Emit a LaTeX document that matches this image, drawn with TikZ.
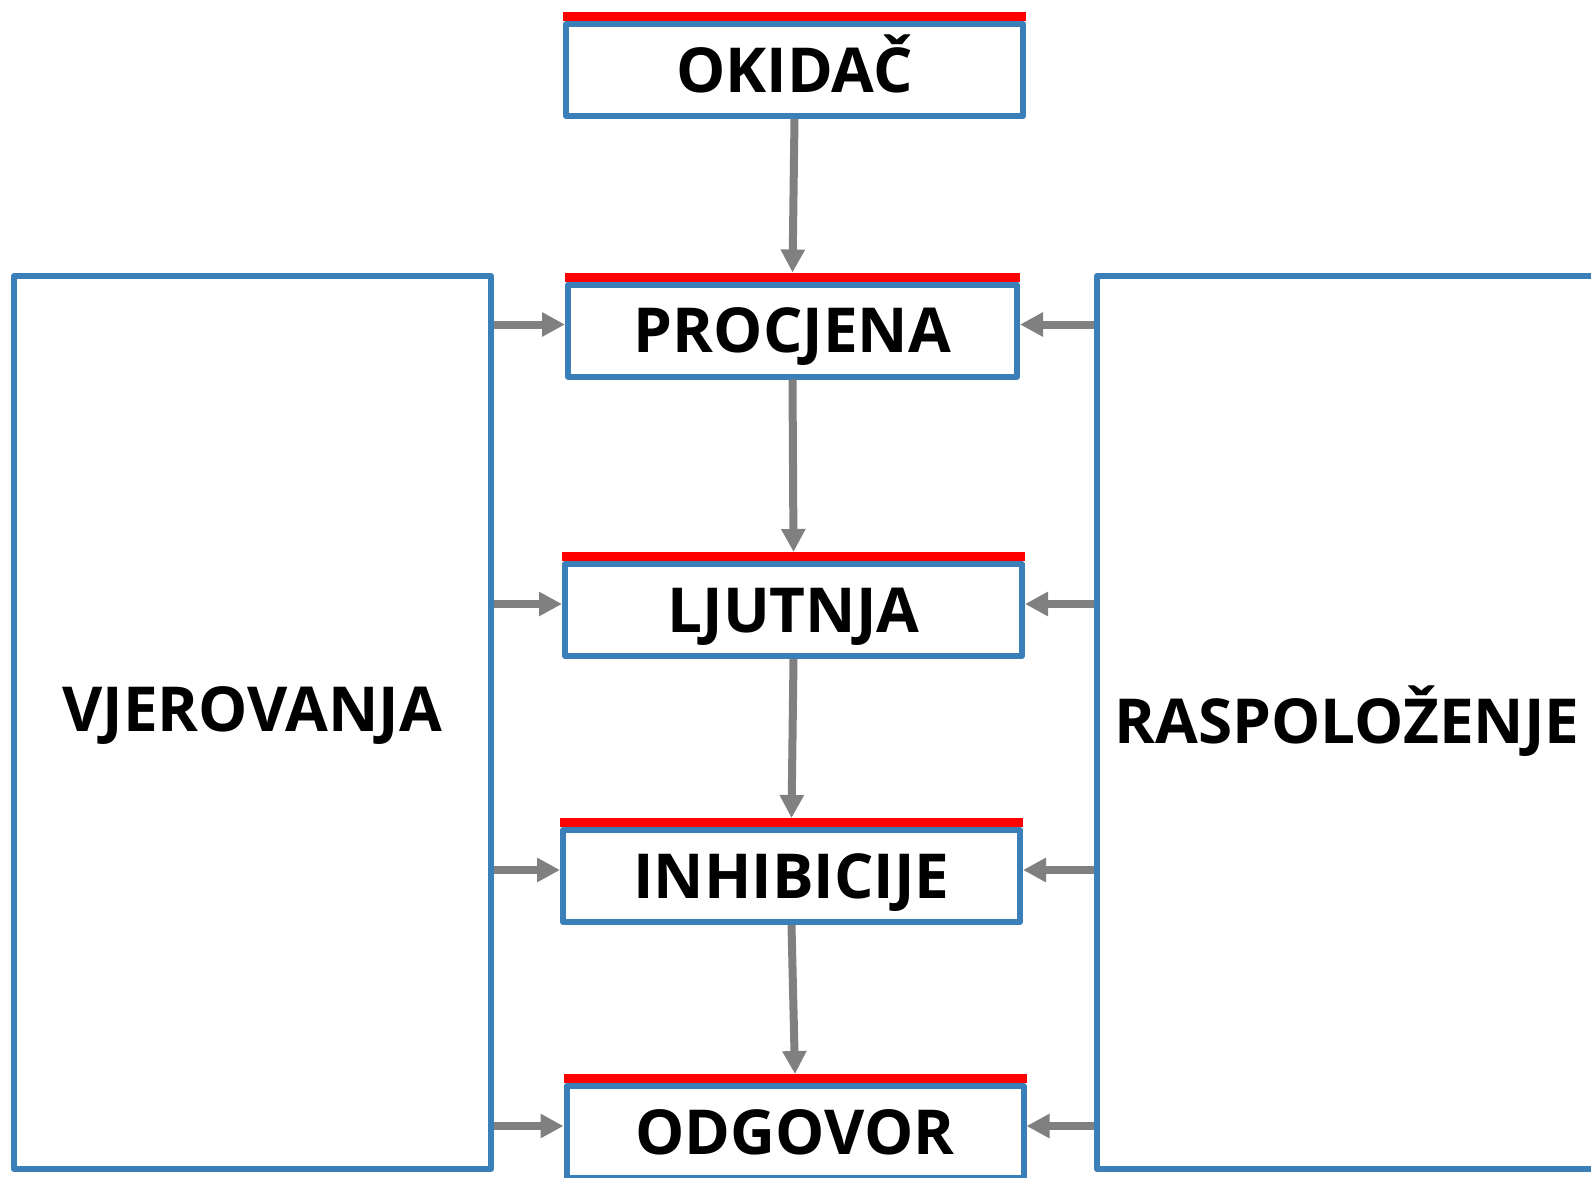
\documentclass[tikz,border=0pt]{standalone}
\usepackage{fontspec}
\setmainfont{Open Sans}
\usetikzlibrary{arrows.meta}
\definecolor{boxblue}{RGB}{59,127,185}
\definecolor{arrgray}{RGB}{128,128,128}

\begin{document}
\begin{tikzpicture}[x=1pt,y=-1pt,
        box/.style={draw=boxblue,line width=6pt,line join=round,fill=white,
            minimum width=457pt,minimum height=92pt,inner sep=0pt,
            font=\bfseries\fontsize{62}{70}\selectfont,text height=44pt,text depth=0pt},
        bigbox/.style={draw=boxblue,line width=6pt,line join=round,minimum height=893pt},
        bigtext/.style={inner sep=0pt,font=\bfseries\fontsize{62}{70}\selectfont,text height=44pt,text depth=0pt},
        redbar/.style={draw=red,line width=9pt},
        arr/.style={draw=arrgray,line width=8pt,-{Triangle[length=23pt,width=23pt]}}]
    \useasboundingbox (0,0) rectangle (1591,1178);
    \clip (0,0) rectangle (1591,1178);
    % side boxes
    \node[bigbox,minimum width=477pt] (vjer) at (252.5,722.5) {};
    \node[bigbox,minimum width=503pt] (rasp) at (1348.5,722.5) {};
    \node[bigtext] (vjertxt) at (252,709) {VJEROVANJA};
    \node[bigtext] (rasptxt) at (1347,721) {RASPOLOŽENJE};
    % middle chain
    \node[box] (okidac) at (794.5,70) {OKIDAČ};
    \node[box,minimum width=449pt] (procjena) at (792.5,330.5) {PROCJENA};
    \node[box] (ljutnja) at (793.5,610) {LJUTNJA};
    \node[box] (inhib) at (791.5,876) {INHIBICIJE};
    \node[box] (odgovor) at (795,1132) {ODGOVOR};
    \foreach \n in {okidac,procjena,ljutnja,inhib,odgovor}
        \draw[redbar] ([yshift=4.5pt]\n.north west) -- ([yshift=4.5pt]\n.north east);
    \draw[arr] (okidac.south) -- ([yshift=9pt]procjena.north);
    \draw[arr] (procjena.south) -- ([yshift=9pt]ljutnja.north);
    \draw[arr] (ljutnja.south) -- ([yshift=9pt]inhib.north);
    \draw[arr] (inhib.south) -- ([yshift=9pt]odgovor.north);
    \foreach \n in {procjena,ljutnja,inhib,odgovor}{
        \draw[arr] ([yshift=6pt]vjer.east |- \n.west) -- ([yshift=6pt]\n.west);
        \draw[arr] ([yshift=6pt]rasp.west |- \n.east) -- ([yshift=6pt]\n.east);
    }
\end{tikzpicture}
\end{document}
